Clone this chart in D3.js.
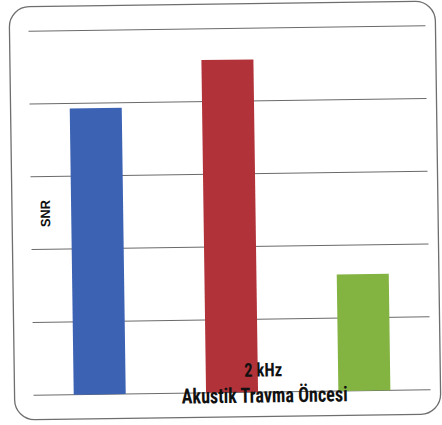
<!DOCTYPE html>
<html>
<head>
<meta charset="utf-8">
<script src="https://cdn.jsdelivr.net/npm/d3@7"></script>
<style>
  html, body { margin: 0; padding: 0; background: #fff; }
  svg { display: block; }
</style>
</head>
<body>
<svg id="chart" width="442" height="425"></svg>
<script>
// SNR at 2 kHz, before acoustic trauma: one bar per group
const groups = ["g1", "g2", "g3"];
const snrValues = [3.93, 4.57, 1.60];
const barColors = ["#3c62b4", "#b2323a", "#83b341"];
const gridTicks = [0, 1, 2, 3, 4, 5];
const yLabel = "SNR";
const freqLabel = "2 kHz";
const xTitle = "Akustik Travma Öncesi";

const W = 442, H = 425;
const plot = { left: 31, right: 428, top: 28.5, bottom: 392.5 };

const svg = d3.select("#chart");
// whole sheet sits at a slight tilt
const root = svg.append("g").attr("transform", "rotate(-0.8, 225, 210)");

// rounded chart frame
root.append("rect")
  .attr("x", 12).attr("y", 4)
  .attr("width", 426).attr("height", 413)
  .attr("rx", 20).attr("ry", 20)
  .attr("fill", "#fff")
  .attr("stroke", "#6e6e6e")
  .attr("stroke-width", 1.3);

const x = d3.scaleBand()
  .domain(groups)
  .range([plot.left, plot.right])
  .paddingInner(0.607)
  .paddingOuter(0.3035);

const y = d3.scaleLinear()
  .domain([0, 5])
  .range([plot.bottom, plot.top]);

// horizontal gridlines
root.append("g")
  .selectAll("line")
  .data(gridTicks)
  .join("line")
  .attr("x1", plot.left).attr("x2", plot.right)
  .attr("y1", d => y(d)).attr("y2", d => y(d))
  .attr("stroke", "#6a6a6a")
  .attr("stroke-width", 1);

// bars
root.append("g")
  .selectAll("rect")
  .data(snrValues)
  .join("rect")
  .attr("x", (d, i) => x(groups[i]))
  .attr("width", x.bandwidth())
  .attr("y", d => y(d))
  .attr("height", d => y(0) - y(d))
  .attr("fill", (d, i) => barColors[i]);

// y-axis title
root.append("text")
  .attr("transform", "translate(50, 211) rotate(-90)")
  .attr("text-anchor", "middle")
  .attr("font-family", "Liberation Sans, Arial, sans-serif")
  .attr("font-weight", "bold")
  .attr("font-size", 13.5)
  .attr("textLength", 27)
  .attr("lengthAdjust", "spacingAndGlyphs")
  .attr("fill", "#111")
  .text(yLabel);

// category and axis titles
const condensed = "'Liberation Sans Narrow', 'Roboto Condensed', 'Liberation Sans', sans-serif";
root.append("text")
  .attr("x", 261).attr("y", 377)
  .attr("text-anchor", "middle")
  .attr("font-family", condensed)
  .attr("font-weight", "bold")
  .attr("font-size", 19)
  .attr("textLength", 38)
  .attr("lengthAdjust", "spacingAndGlyphs")
  .attr("fill", "#111")
  .text(freqLabel);

root.append("text")
  .attr("x", 262).attr("y", 403)
  .attr("text-anchor", "middle")
  .attr("font-family", condensed)
  .attr("font-weight", "bold")
  .attr("font-size", 21)
  .attr("textLength", 166)
  .attr("lengthAdjust", "spacingAndGlyphs")
  .attr("fill", "#111")
  .text(xTitle);
</script>
</body>
</html>
